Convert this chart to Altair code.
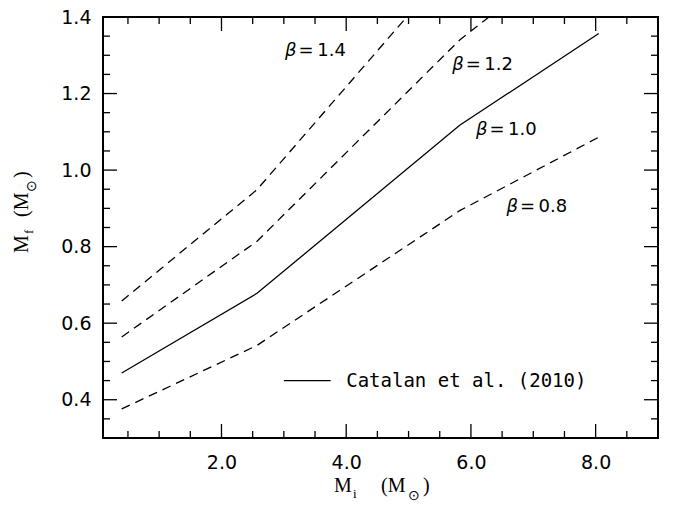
import altair as alt
import pandas as pd

# ---- data ----
mi_b10 = [0.40, 2.57, 5.82, 8.05]
mf_b10 = [0.470, 0.678, 1.117, 1.357]
mi_b12 = [0.40, 2.57, 5.82, 6.29]
mf_b12 = [0.564, 0.814, 1.340, 1.400]
mi_b14 = [0.40, 2.57, 4.97]
mf_b14 = [0.658, 0.949, 1.400]
mi_b08 = [0.40, 2.57, 5.82, 8.05]
mf_b08 = [0.376, 0.542, 0.894, 1.086]

x_labels = [2.0, 4.0, 6.0, 8.0]
y_labels = [0.4, 0.6, 0.8, 1.0, 1.2, 1.4]
x_major = [2.0, 4.0, 6.0, 8.0]
x_minor = [0.5, 1.0, 1.5, 2.5, 3.0, 3.5, 4.5, 5.0, 5.5, 6.5, 7.0, 7.5, 8.5]
y_major = [0.4, 0.6, 0.8, 1.0, 1.2]
y_minor = [0.35, 0.45, 0.5, 0.55, 0.65, 0.7, 0.75, 0.85, 0.9, 0.95,
           1.05, 1.1, 1.15, 1.25, 1.3, 1.35]

ann_value = ["=\u20091.4", "=\u20091.2", "=\u20091.0", "=\u20090.8"]
ann_x = [3.22, 5.90, 6.28, 6.77]
ann_y = [1.311, 1.275, 1.104, 0.904]

legend_label = "Catalan et al. (2010)"
legend_x0, legend_x1, legend_y = 3.0, 3.75, 0.450
legend_text_x = 4.0

W, H = 555, 421
MAJ, MIN = 14, 7

xs = alt.Scale(domain=[0.1, 9.0], nice=False, zero=False)
ys = alt.Scale(domain=[0.3, 1.4], nice=False, zero=False)
xaxis = alt.Axis(values=x_labels, format=".1f", ticks=False, domain=False, grid=False,
                 labelFont="DejaVu Sans", labelFontSize=19, labelColor="black",
                 labelPadding=15, title=None)
yaxis = alt.Axis(values=y_labels, format=".1f", ticks=False, domain=False, grid=False,
                 labelFont="DejaVu Sans", labelFontSize=19, labelColor="black",
                 labelPadding=12, title=None)

def X(f):
    return alt.X(f, type="quantitative", scale=xs, axis=xaxis)

def Y(f):
    return alt.Y(f, type="quantitative", scale=ys, axis=yaxis)

def curve(xv, yv, dashed):
    df = pd.DataFrame({"mi": xv, "mf": yv})
    kw = dict(color="black", strokeWidth=1.3, clip=True)
    if dashed:
        kw["strokeDash"] = [9, 6]
    return alt.Chart(df).mark_line(**kw).encode(x=X("mi"), y=Y("mf"))

layers = [
    curve(mi_b14, mf_b14, True),
    curve(mi_b12, mf_b12, True),
    curve(mi_b10, mf_b10, False),
    curve(mi_b08, mf_b08, True),
]

# inward tick marks on all four sides
def xticks(vals, L):
    df = pd.DataFrame({"v": vals})
    b = alt.Chart(df).mark_rule(color="black", strokeWidth=1.3).encode(
        x=X("v"), y=alt.value(H), y2=alt.value(H - L))
    t = alt.Chart(df).mark_rule(color="black", strokeWidth=1.3).encode(
        x=X("v"), y=alt.value(0), y2=alt.value(L))
    return [b, t]

def yticks(vals, L):
    df = pd.DataFrame({"v": vals})
    l = alt.Chart(df).mark_rule(color="black", strokeWidth=1.3).encode(
        y=Y("v"), x=alt.value(0), x2=alt.value(L))
    r = alt.Chart(df).mark_rule(color="black", strokeWidth=1.3).encode(
        y=Y("v"), x=alt.value(W), x2=alt.value(W - L))
    return [l, r]

layers += xticks(x_major, MAJ) + xticks(x_minor, MIN) + yticks(y_major, MAJ) + yticks(y_minor, MIN)

# beta labels: italic beta + value
ann = pd.DataFrame({"x": ann_x, "y": ann_y, "v": ann_value})
layers.append(alt.Chart(ann).mark_text(text="β", font="DejaVu Sans", fontStyle="italic",
                                       fontSize=18, align="right", baseline="middle",
                                       dx=-1, color="black").encode(x=X("x"), y=Y("y")))
layers.append(alt.Chart(ann).mark_text(font="DejaVu Sans", fontSize=18, align="left",
                                       baseline="middle", dx=1, color="black").encode(
    x=X("x"), y=Y("y"), text="v:N"))

leg = pd.DataFrame({"x0": [legend_x0], "x1": [legend_x1], "y": [legend_y],
                    "tx": [legend_text_x], "t": [legend_label]})
layers.append(alt.Chart(leg).mark_rule(color="black", strokeWidth=1.3).encode(
    x=X("x0"), x2="x1", y=Y("y")))
layers.append(alt.Chart(leg).mark_text(font="DejaVu Sans Mono", fontSize=19, align="left",
                                       baseline="middle", color="black").encode(
    x=X("tx"), y=Y("y"), text="t:N"))

# axis titles built from pieces (subscripts)
one = pd.DataFrame({"a": [0]})
def piece(txt, px, py, size, angle=0, align="left", baseline="alphabetic"):
    kw = dict(text=txt, font="Liberation Serif", fontSize=size, align=align,
              baseline=baseline, color="black")
    if angle:
        kw["angle"] = angle
    return alt.Chart(one).mark_text(**kw).encode(x=alt.value(px), y=alt.value(py))

# x title: M_i (M_sun)
layers += [
    piece("M", 231, 475, 20),
    piece("i", 250, 481, 13),
    piece("(M", 278, 475, 20),
    piece("\u2299", 311, 479, 14, align="center", baseline="middle"),
    piece(")", 320, 475, 20),
]
# y title: M_f (M_sun), rotated
layers += [
    piece("M", -75, 236, 20, angle=270),
    piece("f", -70, 217, 13, angle=270),
    piece("(M", -75, 200, 20, angle=270),
    piece("\u2299", -71, 169, 14, angle=270, align="center", baseline="middle"),
    piece(")", -75, 161, 20, angle=270),
]

chart = alt.layer(*layers).properties(
    width=W, height=H,
    autosize=alt.AutoSizeParams(type="none"),
    padding={"left": 103, "top": 17, "right": 22, "bottom": 72},
    background="white",
).configure_view(stroke="black", strokeWidth=2)

chart.save("out.html", embed_options={"renderer": "svg", "actions": False})
